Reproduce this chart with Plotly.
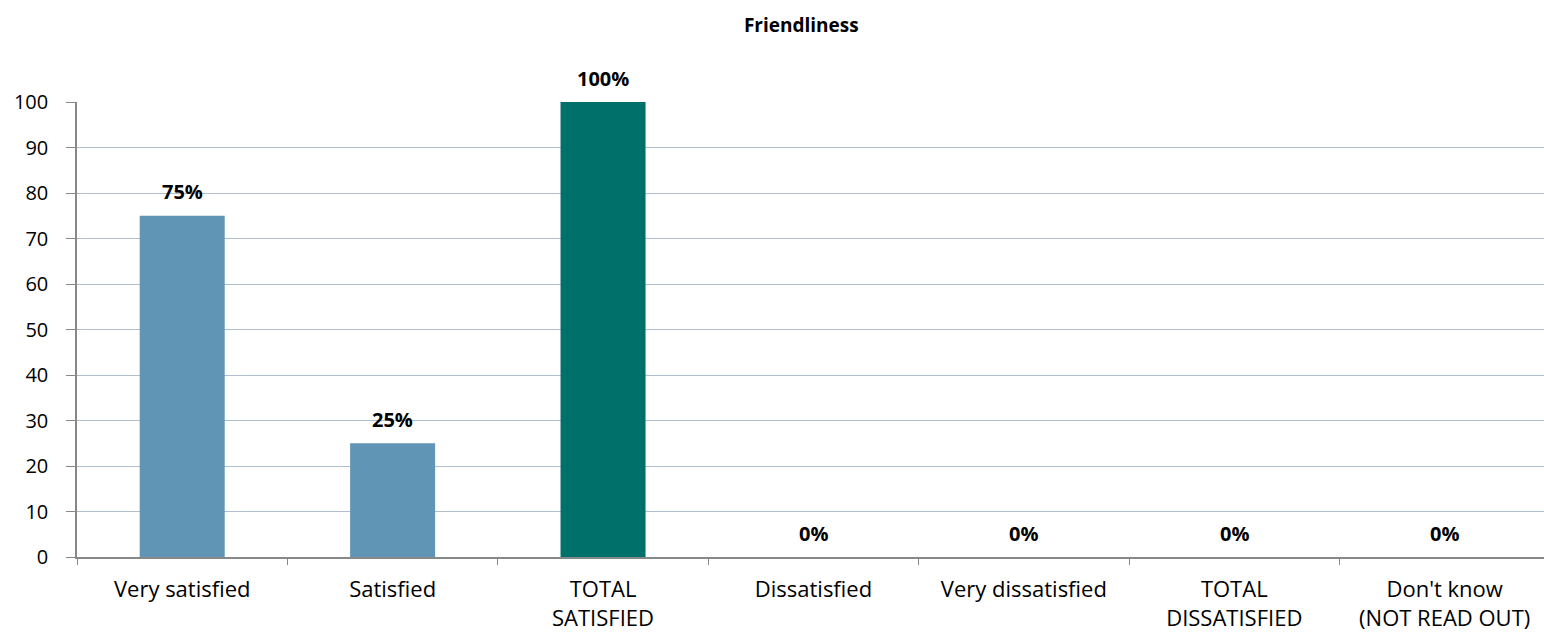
import plotly.graph_objects as go

categories = ["Very satisfied", "Satisfied", "TOTAL<br>SATISFIED", "Dissatisfied",
              "Very dissatisfied", "TOTAL<br>DISSATISFIED", "Don't know<br>(NOT READ OUT)"]
values = [75, 25, 100, 0, 0, 0, 0]
bar_colors = ["#6095B5", "#6095B5", "#00706A", "#6095B5", "#6095B5", "#6095B5", "#6095B5"]
y_ticks = [0, 10, 20, 30, 40, 50, 60, 70, 80, 90, 100]

FONT = "Open Sans, Noto Sans, sans-serif"

fig = go.Figure(go.Bar(
    x=categories,
    y=values,
    marker=dict(color=bar_colors, line=dict(width=0)),
    hoverinfo="skip",
))

# Percentage labels above each bar
for c, v in zip(categories, values):
    fig.add_annotation(x=c, y=v, text=f"<b>{v}%</b>", showarrow=False,
                       yshift=24, font=dict(family=FONT, size=20, color="#000000"))

fig.update_layout(
    width=1544, height=636,
    margin=dict(l=77, r=0, t=102, b=79, autoexpand=False),
    paper_bgcolor="white", plot_bgcolor="white",
    bargap=0.596,
    showlegend=False,
    title=dict(text="<b>Friendliness</b>", x=0.519, xanchor="center", y=0.96, yanchor="middle",
               font=dict(family=FONT, size=19, color="#000000")),
    font=dict(family=FONT, size=20, color="#000000"),
)
# The last category runs slightly past the right edge of the figure
fig.update_xaxes(
    type="category", range=[-0.5, 6.472], tickson="boundaries", ticks="outside", ticklen=6,
    tickcolor="#888888", showline=True, linecolor="#888888", linewidth=1.5,
    showgrid=False, tickfont=dict(family=FONT, size=22, color="#000000"),
    ticklabelstandoff=12, automargin=False,
)
fig.update_yaxes(
    range=[0, 100], tickvals=y_ticks, ticks="outside", ticklen=9,
    tickcolor="#888888", showline=True, linecolor="#888888", linewidth=1.5,
    showgrid=True, gridcolor="#B0BFD0", gridwidth=1.3, zeroline=False,
    tickfont=dict(family=FONT, size=20, color="#000000"),
    ticklabelstandoff=14, automargin=False,
)

fig.write_html("out.html")
